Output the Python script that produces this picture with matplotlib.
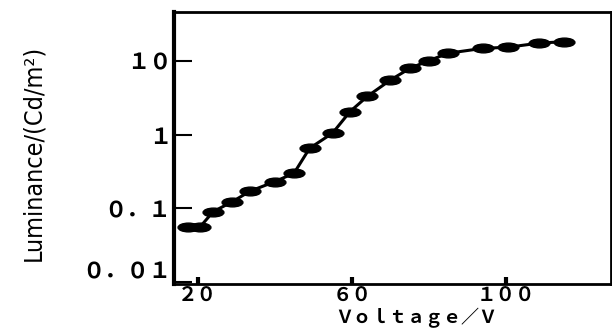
import matplotlib
matplotlib.use("Agg")
import matplotlib.pyplot as plt
import matplotlib.path as mpath
import matplotlib.transforms as mtransforms
import numpy as np

# luminance vs voltage
voltage = [17.5, 20.5, 24, 29, 33.5, 40, 45, 49, 55, 59.5, 64, 70, 75, 80, 85, 94, 100.5, 108.5, 115]
luminance = [0.055, 0.055, 0.090, 0.123, 0.17, 0.23, 0.30, 0.65, 1.05, 2.05, 3.3, 5.5, 7.9, 10.1, 12.7, 14.8, 15.3, 17.4, 18.2]

xticks = [20, 60, 100]
xtick_labels = ["２０", "６０", "１００"]
yticks = [0.01, 0.1, 1, 10]
ytick_labels = ["０．０１", "０．１", "１", "１０"]

cjk = ["Noto Sans CJK JP", "DejaVu Sans"]

# flat ellipse marker like the blobs in the scan
circ = mpath.Path.unit_circle()
ell = mpath.Path(circ.vertices * np.array([1.0, 0.42]), circ.codes)

fig = plt.figure(figsize=(6.12, 3.29), dpi=100)
ax = fig.add_axes([174/612, 1-284/329, 437/612, 272/329])

ax.plot(voltage, luminance, color="black", lw=2.2, marker=ell, ms=15,
        mfc="black", mec="black")

ax.set_yscale("log")
ax.set_xlim(13.85, 127.2)
ax.set_ylim(0.0094, 46)

ax.set_xticks(xticks)
ax.set_xticklabels(xtick_labels, family=cjk, fontsize=14, fontweight="bold")
ax.set_yticks(yticks)
ax.set_yticklabels(ytick_labels, family=cjk, fontsize=16, fontweight="bold")
ax.minorticks_off()
ax.tick_params(axis="x", direction="in", length=5, width=3, pad=1)
ax.tick_params(axis="y", direction="in", length=13, width=1.5, pad=2)

# lowest label sits above its tick in the original
lab = ax.get_yticklabels()[0]
lab.set_transform(lab.get_transform() +
                  mtransforms.ScaledTranslation(0, 9/72, fig.dpi_scale_trans))

for side, w in [("left", 3.0), ("bottom", 2.0), ("top", 2.0), ("right", 2.0)]:
    ax.spines[side].set_linewidth(w)

ax.set_xlabel("Ｖｏｌｔａｇｅ／Ｖ", family=cjk, fontsize=13, fontweight="bold",
              va="bottom")
ax.xaxis.set_label_coords(0.554, -0.16)
ax.set_ylabel("Luminance/(Cd/m²)", family=["DejaVu Sans"], fontstretch="condensed",
              fontsize=18, va="center")
ax.yaxis.set_label_coords(-0.323, 0.482)

fig.savefig("out.png", dpi=100)
